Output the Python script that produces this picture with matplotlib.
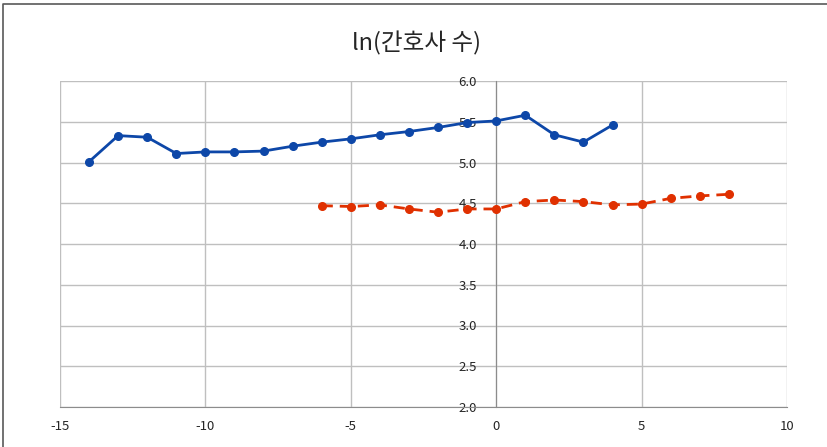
import matplotlib.pyplot as plt
from matplotlib.lines import Line2D

# --- Dati ---
x_blue = [-14, -13, -12, -11, -10, -9, -8, -7, -6, -5, -4, -3, -2, -1, 0, 1, 2, 3, 4]
y_blue = [5.01, 5.33, 5.31, 5.11, 5.13, 5.13, 5.14, 5.20, 5.25, 5.29, 5.34, 5.38, 5.43,
          5.49, 5.51, 5.58, 5.34, 5.25, 5.46]

x_red = [-6, -5, -4, -3, -2, -1, 0, 1, 2, 3, 4, 5, 6, 7, 8]
y_red = [4.47, 4.46, 4.48, 4.43, 4.39, 4.43, 4.43, 4.52, 4.54, 4.52, 4.48, 4.49,
         4.56, 4.59, 4.61]

x_ticks = [-15, -10, -5, 0, 5, 10]
y_ticks = [2.0, 2.5, 3.0, 3.5, 4.0, 4.5, 5.0, 5.5, 6.0]

plt.rcParams['font.family'] = ['Noto Sans CJK KR', 'DejaVu Sans']
plt.rcParams['axes.unicode_minus'] = False

fig = plt.figure(figsize=(8.28, 4.47), dpi=100)
ax = fig.add_axes([60 / 828, 1 - 407 / 447, 727 / 828, 326 / 447])

# bordo (solo sopra e a sinistra, l'immagine e' ritagliata)
fig.lines.append(Line2D([3.5 / 828, 3.5 / 828, 1.0], [0.0, 1 - 3.5 / 447, 1 - 3.5 / 447],
                        transform=fig.transFigure, color='#595959', linewidth=1.2))

ax.plot(x_blue, y_blue, color='#0D47A8', linewidth=2, marker='o', markersize=5.5, zorder=3)
ax.plot(x_red, y_red, color='#E03000', linewidth=2, linestyle=(0, (4, 2.5)),
        marker='o', markersize=5.5, zorder=3)

ax.set_xlim(-15, 10)
ax.set_ylim(2.0, 6.0)
ax.set_xticks(x_ticks)
ax.set_yticks(y_ticks)
ax.set_yticklabels([f"{v:.1f}" for v in y_ticks])
ax.grid(True, color='#BFBFBF', linewidth=1)
ax.set_axisbelow(True)

ax.spines['left'].set_position(('data', 0))
ax.spines['left'].set_color('#8C8C8C')
ax.spines['bottom'].set_color('#8C8C8C')
ax.spines['right'].set_visible(False)
ax.spines['top'].set_visible(False)
ax.tick_params(axis='both', length=0, labelsize=9.5, colors='#262626')
ax.tick_params(axis='x', pad=9)
ax.tick_params(axis='y', pad=14)

fig.text(417 / 828, 1 - 43 / 447, "ln(간호사 수)", ha='center', va='center',
         fontsize=17, color='#262626')

plt.savefig('out.png', dpi=100)
